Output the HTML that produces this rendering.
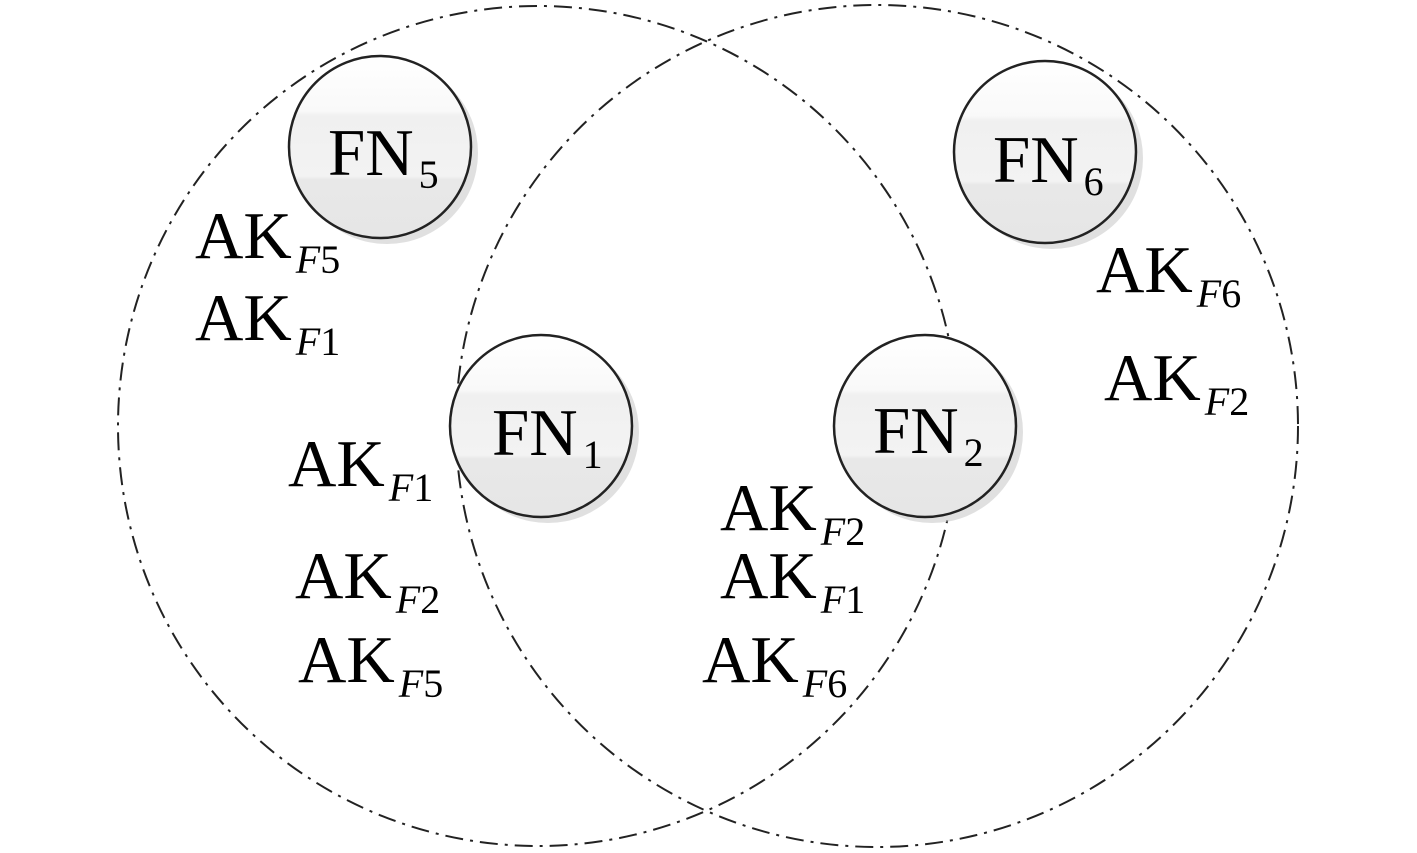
<!DOCTYPE html>
<html><head><style>body{margin:0;background:#fff}svg{display:block}</style></head>
<body>
<svg width="1417" height="853" viewBox="0 0 1417 853" xmlns="http://www.w3.org/2000/svg" font-family="Liberation Serif, serif">
<defs>
<linearGradient id="g" x1="0" y1="0" x2="0" y2="1">
<stop offset="0" stop-color="#ffffff"/>
<stop offset="0.3" stop-color="#f9f9f9"/>
<stop offset="0.33" stop-color="#f0f0f0"/>
<stop offset="0.66" stop-color="#f3f3f3"/>
<stop offset="0.68" stop-color="#e8e8e8"/>
<stop offset="1" stop-color="#e6e6e6"/>
</linearGradient>
</defs>
<g fill="none" stroke="#222" stroke-width="2" stroke-dasharray="18 7 3 7">
<circle cx="538" cy="426" r="420"/>
<circle cx="877" cy="426" r="421"/>
</g>
<g stroke="#222" stroke-width="2.5">
<circle cx="387" cy="153" r="91" fill="#ccc" stroke="none" opacity="0.6"/>
<circle cx="1052" cy="158" r="91" fill="#ccc" stroke="none" opacity="0.6"/>
<circle cx="548" cy="432" r="91" fill="#ccc" stroke="none" opacity="0.6"/>
<circle cx="932" cy="432" r="91" fill="#ccc" stroke="none" opacity="0.6"/>
<circle cx="380" cy="147" r="91" fill="url(#g)"/>
<circle cx="1045" cy="152" r="91" fill="url(#g)"/>
<circle cx="541" cy="426" r="91" fill="url(#g)"/>
<circle cx="925" cy="426" r="91" fill="url(#g)"/>
</g>
<g font-size="67" fill="#000">
<text x="328" y="175">FN<tspan font-size="40" dx="5" dy="13">5</tspan></text>
<text x="993" y="182">FN<tspan font-size="40" dx="5" dy="13">6</tspan></text>
<text x="492" y="455">FN<tspan font-size="40" dx="5" dy="13">1</tspan></text>
<text x="873" y="453">FN<tspan font-size="40" dx="5" dy="13">2</tspan></text>

<text x="195" y="258">AK<tspan font-size="40" dx="4" dy="15"><tspan font-style="italic">F</tspan>5</tspan></text>
<text x="195" y="340">AK<tspan font-size="40" dx="4" dy="15"><tspan font-style="italic">F</tspan>1</tspan></text>
<text x="288" y="486">AK<tspan font-size="40" dx="4" dy="15"><tspan font-style="italic">F</tspan>1</tspan></text>
<text x="295" y="598">AK<tspan font-size="40" dx="4" dy="15"><tspan font-style="italic">F</tspan>2</tspan></text>
<text x="298" y="682">AK<tspan font-size="40" dx="4" dy="15"><tspan font-style="italic">F</tspan>5</tspan></text>
<text x="720" y="530">AK<tspan font-size="40" dx="4" dy="15"><tspan font-style="italic">F</tspan>2</tspan></text>
<text x="720" y="598">AK<tspan font-size="40" dx="4" dy="15"><tspan font-style="italic">F</tspan>1</tspan></text>
<text x="702" y="682">AK<tspan font-size="40" dx="4" dy="15"><tspan font-style="italic">F</tspan>6</tspan></text>
<text x="1096" y="292">AK<tspan font-size="40" dx="4" dy="15"><tspan font-style="italic">F</tspan>6</tspan></text>
<text x="1104" y="400">AK<tspan font-size="40" dx="4" dy="15"><tspan font-style="italic">F</tspan>2</tspan></text>
</g>
</svg>
</body></html>
